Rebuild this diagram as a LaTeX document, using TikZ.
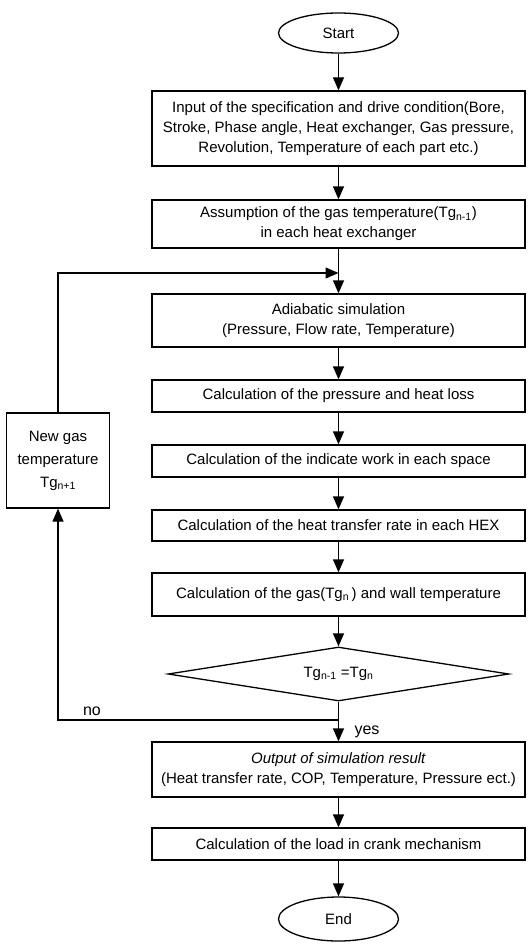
\documentclass[tikz,border=0pt]{standalone}
\usepackage{fontspec}
\setmainfont{Liberation Sans}
\usetikzlibrary{arrows.meta,shapes.geometric}
\begin{document}
\begin{tikzpicture}[x=1pt,y=-1pt,
  font=\fontsize{15}{20}\selectfont,
  box/.style={draw,line width=1.3pt,rectangle,minimum width=373pt,inner sep=1pt,align=center},
  term/.style={draw,line width=1.3pt,ellipse,minimum width=120pt,inner sep=0pt},
  arr/.style={line width=1.3pt,-{Triangle[length=13pt,width=11pt]}},
  lbl/.style={font=\fontsize{16}{18}\selectfont,inner sep=0pt}]
\useasboundingbox (0,0) rectangle (527,944);
\node[term,minimum height=40pt] (start) at (338.5,33) {Start};
\node[box,minimum height=75pt] (b1) at (338.5,128.5) {Input of the specification and drive condition(Bore,\\Stroke, Phase angle, Heat exchanger, Gas pressure,\\Revolution, Temperature of each part etc.)};
\node[box,minimum height=48pt] (b2) at (338.5,224) {Assumption of the gas temperature(Tg\textsubscript{n-1})\\in each heat exchanger};
\node[box,minimum height=53pt] (ad) at (338.5,320.5) {Adiabatic simulation\\(Pressure, Flow rate, Temperature)};
\node[box,minimum height=32pt] (pl) at (338.5,396) {Calculation of the pressure and heat loss};
\node[box,minimum height=32pt] (iw) at (338.5,461) {Calculation of the indicate work in each space};
\node[box,minimum height=31pt] (hx) at (338.5,525.5) {Calculation of the heat transfer rate in each HEX};
\node[box,minimum height=43pt] (gw) at (338.5,594.5) {Calculation of the gas(Tg\textsubscript{n}\,) and wall temperature};
\node[draw,line width=1.3pt,diamond,aspect=6.3,inner sep=0pt,minimum width=341pt,minimum height=54pt] (d) at (338.5,674) {Tg\textsubscript{n-1} =Tg\textsubscript{n}};
\node[box,minimum height=55pt] (out) at (338.5,769.5) {\textit{Output of simulation result}\\(Heat transfer rate, COP, Temperature, Pressure ect.)};
\node[box,minimum height=32pt] (cr) at (338.5,844) {Calculation of the load in crank mechanism};
\node[term,minimum height=44pt] (e) at (338.5,919) {End};
\node[draw,line width=1.3pt,rectangle,minimum width=103pt,minimum height=95pt,inner sep=1pt,align=center,font=\fontsize{15}{23}\selectfont] (ng) at (58,460.5) {New gas\\temperature\\Tg\textsubscript{n+1}};
\coordinate (nc) at (58,720);
\coordinate (lc) at (338.5,273);
\draw[arr] (start) -- (b1);
\draw[arr] (b1) -- (b2);
\draw[arr] (b2) -- (ad);
\draw[arr] (ad) -- (pl);
\draw[arr] (pl) -- (iw);
\draw[arr] (iw) -- (hx);
\draw[arr] (hx) -- (gw);
\draw[arr] (gw) -- (d);
\draw[arr] (d) -- (out);
\draw[arr] (out) -- (cr);
\draw[arr] (cr) -- (e);
\draw[arr] (d.south |- nc) -- (nc) -- (ng.south);
\draw[arr] (ng.north) |- (lc);
\node[lbl] (no) at (92,711) {no};
\node[lbl] (yes) at (367,732) {yes};
\end{tikzpicture}
\end{document}
